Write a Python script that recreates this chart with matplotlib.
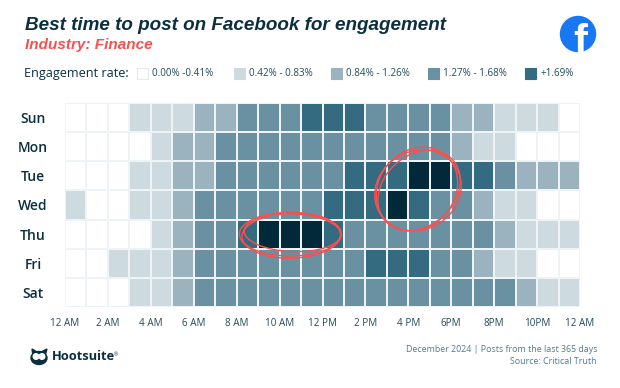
import matplotlib
matplotlib.use('Agg')
import matplotlib.pyplot as plt
import numpy as np
from matplotlib.colors import ListedColormap
from matplotlib.patches import Circle, Ellipse, Polygon, Rectangle

days = ['Sun', 'Mon', 'Tue', 'Wed', 'Thu', 'Fri', 'Sat']
hour_labels = ['12 AM', '2 AM', '4 AM', '6 AM', '8 AM', '10 AM', '12 PM', '2 PM',
               '4 PM', '6PM', '8PM', '10PM', '12 AM']
legend_labels = ['0.00% -0.41%', '0.42% - 0.83%', '0.84% - 1.26%', '1.27% - 1.68%', '+1.69%']
legend_x = [137, 234, 330.5, 428, 525]
level_colors = ['#ffffff', '#cddae0', '#9bb3be', '#6a91a2', '#356b80', '#02293a']

# one colour level per hour
sun = [0, 0, 0, 1, 1, 1, 2, 2, 3, 3, 3, 4, 4, 4, 3, 3, 3, 3, 2, 2, 1, 1, 1, 0]
mon = [0, 0, 0, 0, 1, 2, 2, 3, 3, 3, 3, 3, 3, 3, 3, 3, 3, 3, 2, 1, 1, 0, 0, 0]
tue = [0, 0, 0, 1, 1, 2, 2, 3, 3, 3, 3, 3, 3, 4, 4, 4, 5, 5, 4, 4, 3, 2, 2, 2]
wed = [1, 0, 0, 1, 1, 2, 3, 3, 3, 3, 3, 3, 4, 4, 4, 5, 4, 3, 3, 2, 1, 1, 0, 0]
thu = [0, 0, 0, 0, 1, 2, 3, 3, 4, 5, 5, 5, 4, 3, 3, 3, 3, 3, 3, 3, 2, 1, 1, 1]
fri = [0, 0, 1, 1, 1, 2, 3, 3, 3, 3, 3, 3, 3, 3, 4, 4, 4, 3, 3, 2, 1, 1, 0, 0]
sat = [0, 0, 0, 1, 1, 2, 3, 3, 3, 3, 3, 3, 3, 3, 3, 3, 3, 3, 3, 3, 3, 2, 1, 1]

W, H = 620, 388
DARK = '#0b2f3f'
RED = '#f9504f'
FONT = ['Open Sans', 'DejaVu Sans']

fig = plt.figure(figsize=(W / 100, H / 100), dpi=100, facecolor='white')

# page axes in pixels, for the header, legend and footer
page = fig.add_axes([0, 0, 1, 1])
page.set_xlim(0, W)
page.set_ylim(H, 0)
page.axis('off')

ax = fig.add_axes([65 / W, 1 - 307 / H, 515 / W, 204 / H])
grid = np.array([sun, mon, tue, wed, thu, fri, sat])
ax.pcolormesh(grid, cmap=ListedColormap(level_colors), vmin=-0.5, vmax=5.5,
              edgecolors='#eef3f5', linewidth=1.3)
ax.set_ylim(7, 0)
ax.set_xlim(0, 24)
for s in ax.spines.values():
    s.set_visible(False)
ax.set_xticks(np.arange(0, 25, 2), hour_labels, fontsize=7.1, color='#234a5a', family=FONT)
ax.set_yticks(np.arange(7) + 0.5, days, fontsize=10, color=DARK, weight='semibold', family=FONT)
ax.tick_params(length=0)
ax.tick_params(axis='x', pad=8)
ax.tick_params(axis='y', pad=23)
for lab in ax.get_yticklabels():
    lab.set_ha('center')

# hand drawn red rings
for cx, cy, w, h, ang in [(10.5, 4.5, 4.75, 1.5, 0), (10.6, 4.45, 4.5, 1.3, 1.5), (10.55, 4.55, 4.6, 1.55, -1),
                          (16.45, 3.0, 4.05, 2.75, -8), (16.4, 2.95, 3.85, 2.8, -14), (16.5, 3.0, 3.95, 2.6, -18)]:
    ax.add_patch(Ellipse((cx, cy), w, h, angle=ang, fill=False, edgecolor=RED, lw=1.0, clip_on=False))

# header
page.text(25, 26, 'Best time to post on Facebook for engagement', fontsize=13.6, weight='bold',
          style='italic', color=DARK, family=['Liberation Sans'], va='center')
page.text(25, 45, 'Industry: Finance', fontsize=11, weight='bold', style='italic', color=RED,
          family=['Liberation Sans'], va='center')
page.text(24, 73, 'Engagement rate:', fontsize=9.1, color=DARK, family=FONT, va='center')
for i, (x, label) in enumerate(zip(legend_x, legend_labels)):
    edge = '#e3eaed' if i == 0 else level_colors[i]
    page.add_patch(Rectangle((x, 68), 11, 11, facecolor=level_colors[i], edgecolor=edge, lw=0.8))
    page.text(x + 15, 73.5, label, fontsize=7.1, color='#234a5a', family=FONT, va='center')

# facebook logo, the f runs out through the bottom of the circle
fb = Circle((578, 34), 17.5, color='#1877f2')
page.add_patch(fb)
f = page.text(580, 54, 'f', fontsize=30, weight='bold', color='white', family=['Liberation Sans'],
              ha='center', va='baseline')
f.set_clip_path(fb)

# hootsuite logo
page.add_patch(Ellipse((39, 358), 16, 13, color=DARK))
page.add_patch(Polygon([(32, 349), (37, 352), (33, 356)], color=DARK))
page.add_patch(Polygon([(47, 349), (41, 352), (45, 356)], color=DARK))
page.add_patch(Circle((36, 356.5), 2.8, color='white'))
page.add_patch(Circle((42, 356.5), 2.8, color='white'))
page.text(51.5, 356.5, 'Hootsuite', fontsize=9.3, weight='bold', color=DARK, family=FONT, va='center')
page.text(114, 354.5, '®', fontsize=3.5, color=DARK, family=FONT, va='center')

# footer
page.text(597, 350, 'December 2024 | Posts from the last 365 days', fontsize=6.4, color='#4f7d90',
          family=FONT, ha='right', va='center')
page.text(597, 361, 'Source: Critical Truth', fontsize=6.4, color='#4f7d90', family=FONT,
          ha='right', va='center')

fig.savefig('out.png', dpi=100)
